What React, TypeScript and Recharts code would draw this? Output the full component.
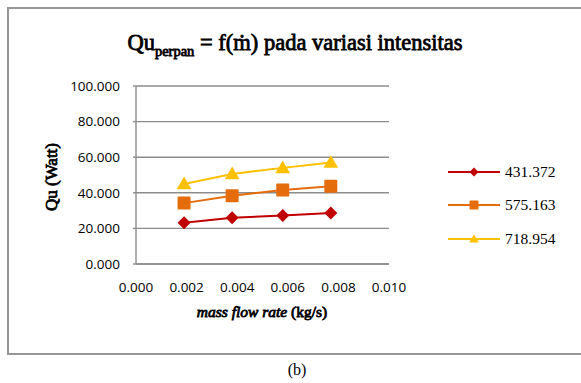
import {
  LineChart,
  Line,
  XAxis,
  YAxis,
  CartesianGrid,
} from "recharts";

const flowRate = [0.0019, 0.0038, 0.0058, 0.0077];
const qu431 = [23.2, 26.0, 27.2, 28.7];
const qu575 = [34.2, 38.4, 41.6, 43.7];
const qu718 = [45.0, 50.6, 54.0, 57.0];

const xTicks = [0, 0.002, 0.004, 0.006, 0.008, 0.01];
const yTicks = [0, 20, 40, 60, 80, 100];

const series = [
  { key: "a", name: "431.372", color: "#C00000", shape: "diamond" },
  { key: "b", name: "575.163", color: "#E46C0A", shape: "square" },
  { key: "c", name: "718.954", color: "#FFC000", shape: "triangle" },
];

const data = flowRate.map((x, i) => ({
  x,
  a: qu431[i],
  b: qu575[i],
  c: qu718[i],
}));

const serif = "'Liberation Serif'";
const sans = "'Open Sans', sans-serif";

// bold look for the serif texts
const heavy = { fontFamily: serif, fontWeight: "normal", WebkitTextStroke: "0.8px #000" } as const;

// marker drawn around (cx, cy)
const Marker = ({ cx, cy, shape, color, s }: any) => {
  if (shape === "diamond") {
    return (
      <path
        d={`M${cx},${cy - s} L${cx + s},${cy} L${cx},${cy + s} L${cx - s},${cy} Z`}
        fill={color}
      />
    );
  }
  if (shape === "square") {
    return (
      <rect x={cx - s} y={cy - s} width={s * 2} height={s * 2} fill={color} rx={1} />
    );
  }
  return (
    <path
      d={`M${cx},${cy - s * 1.05} L${cx + s * 1.05},${cy + s * 0.75} L${cx - s * 1.05},${cy + s * 0.75} Z`}
      fill={color}
    />
  );
};

const markerSize: Record<string, number> = { diamond: 6.5, square: 6.5, triangle: 7 };

const LegendBox = () => (
  <div
    style={{
      position: "absolute",
      left: 448,
      top: 155,
      fontFamily: serif,
      fontSize: 15.5,
      color: "#000",
    }}
  >
    {series.map((s) => (
      <div
        key={s.key}
        style={{ display: "flex", alignItems: "center", height: 33.5 }}
      >
        <svg width={57} height={16}>
          <line x1={0} y1={8} x2={52} y2={8} stroke={s.color} strokeWidth={2} />
          <Marker cx={26} cy={8} shape={s.shape} color={s.color} s={4.5} />
        </svg>
        <span>{s.name}</span>
      </div>
    ))}
  </div>
);

export default function App() {
  return (
    <div
      style={{
        position: "absolute",
        left: 0,
        top: 0,
        width: 581,
        height: 383,
        background: "#fff",
        overflow: "hidden",
      }}
    >
      <div
        style={{
          position: "absolute",
          left: 7,
          top: 7,
          width: 590,
          height: 348,
          border: "2px solid #969696",
          boxSizing: "border-box",
        }}
      />
      <div
        style={{
          ...heavy,
          position: "absolute",
          left: 0,
          top: 30,
          width: 590,
          textAlign: "center",
          fontSize: 22.5,
          whiteSpace: "nowrap",
        }}
      >
        Qu<sub style={{ fontSize: 14.5 }}>perpan</sub> = f(ṁ) pada variasi intensitas
      </div>
      <div
        style={{
          ...heavy,
          position: "absolute",
          left: 52,
          top: 177,
          transform: "translate(-50%, -50%) rotate(-90deg)",
          whiteSpace: "nowrap",
          fontSize: 17,
        }}
      >
        Qu (Watt)
      </div>
      <div
        style={{
          ...heavy,
          position: "absolute",
          left: 0,
          top: 303,
          width: 524,
          textAlign: "center",
          fontSize: 15.5,
          whiteSpace: "nowrap",
        }}
      >
        <i>mass flow rate</i> (kg/s)
      </div>
      <div
        style={{
          position: "absolute",
          left: 0,
          top: 361,
          width: 594,
          textAlign: "center",
          fontFamily: serif,
          fontSize: 16,
        }}
      >
        (b)
      </div>
      <LineChart
        width={581}
        height={383}
        data={data}
        margin={{ top: 86, right: 192, bottom: 89, left: 76 }}
        style={{ position: "absolute", left: 0, top: 0 }}
      >
        <CartesianGrid vertical={false} stroke="#8c8c8c" strokeWidth={1.4} />
        <XAxis
          dataKey="x"
          type="number"
          domain={[0, 0.01]}
          ticks={xTicks}
          height={30}
          tickFormatter={(v: number) => v.toFixed(3)}
          tick={{ fontSize: 13.5, fill: "#000", fontFamily: sans }}
          axisLine={{ stroke: "#8c8c8c", strokeWidth: 1.4 }}
          tickLine={false}
          tickSize={0}
          tickMargin={18}
          interval={0}
        />
        <YAxis
          type="number"
          domain={[0, 100]}
          ticks={yTicks}
          width={60}
          tickFormatter={(v: number) => v.toFixed(3)}
          tick={{ fontSize: 13.5, fill: "#000", fontFamily: sans }}
          axisLine={{ stroke: "#8c8c8c", strokeWidth: 1.4 }}
          tickLine={{ stroke: "#8c8c8c", strokeWidth: 1.4 }}
          tickSize={3}
          tickMargin={13}
          interval={0}
        />
        {series.map((s) => (
          <Line
            key={s.key}
            dataKey={s.key}
            name={s.name}
            stroke={s.color}
            strokeWidth={2}
            isAnimationActive={false}
            dot={(p: any) => (
              <Marker
                key={`${s.key}-${p.index}`}
                cx={p.cx}
                cy={p.cy}
                shape={s.shape}
                color={s.color}
                s={markerSize[s.shape]}
              />
            )}
            activeDot={false}
          />
        ))}
      </LineChart>
      <LegendBox />
    </div>
  );
}
